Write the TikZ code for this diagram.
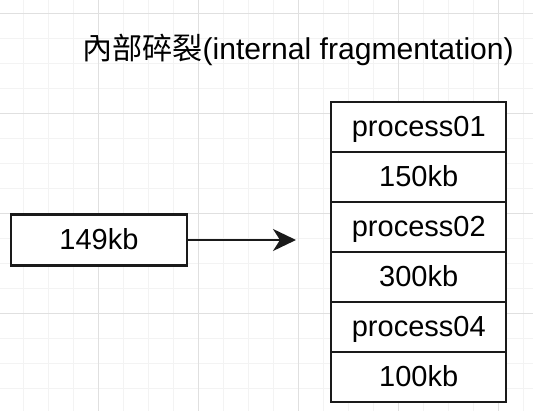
\documentclass[tikz,border=0pt]{standalone}
\usepackage{fontspec}
\setmainfont{Liberation Sans}
\newfontfamily\cjk{Noto Sans CJK TC}
\usetikzlibrary{arrows.meta,positioning}
\definecolor{gridmajor}{HTML}{E0E0E0}
\definecolor{gridminor}{HTML}{F3F3F3}
\definecolor{boxline}{HTML}{1A1A1A}
\tikzset{
  memcell/.style={draw=boxline, fill=white, line width=2.2pt, inner sep=0pt,
    minimum width=175pt, minimum height=50pt, text height=21pt, text depth=1.6pt,
    font=\fontsize{29}{34}\selectfont},
  reqbox/.style={memcell, minimum width=176pt, minimum height=51pt},
  heading/.style={font=\fontsize{30.1}{34}\selectfont, inner sep=0pt},
  alloc/.style={-{Stealth[length=23pt, width=22pt, inset=7pt]}, line width=2pt, color=boxline},
  % the canvas grid
  minorline/.style={gridminor, line width=1pt},
  majorline/.style={gridmajor, line width=1pt},
}

\begin{document}
\begin{tikzpicture}[x=1pt,y=1pt]
  \useasboundingbox (0,0) rectangle (533,411);
  % grid
  \foreach \x in {-1.5,23.5,...,533} \draw[minorline] (\x,0) -- (\x,411);
  \foreach \y in {-3,22,...,411} \draw[minorline] (0,\y) -- (533,\y);
  \foreach \x in {98.5,198.5,...,533} \draw[majorline] (\x,0) -- (\x,411);
  \foreach \y in {97,197,...,411} \draw[majorline] (0,\y) -- (533,\y);
  % title
  \node[heading, anchor=base] (heading) at (298,351.5) {{\cjk 內部碎裂}(internal fragmentation)};
  % the memory, top to bottom
  \foreach \t [count=\i] in {process01,150kb,process02,300kb,process04,100kb}
    \node[memcell] (cell\i) at (418.75,{334-50*\i}) {\t};
  % the request
  \node[reqbox] (req) at (99,171) {149kb};
  \coordinate (slot) at (296,171);
  \draw[alloc] (req.east) -- (slot);
\end{tikzpicture}
\end{document}
